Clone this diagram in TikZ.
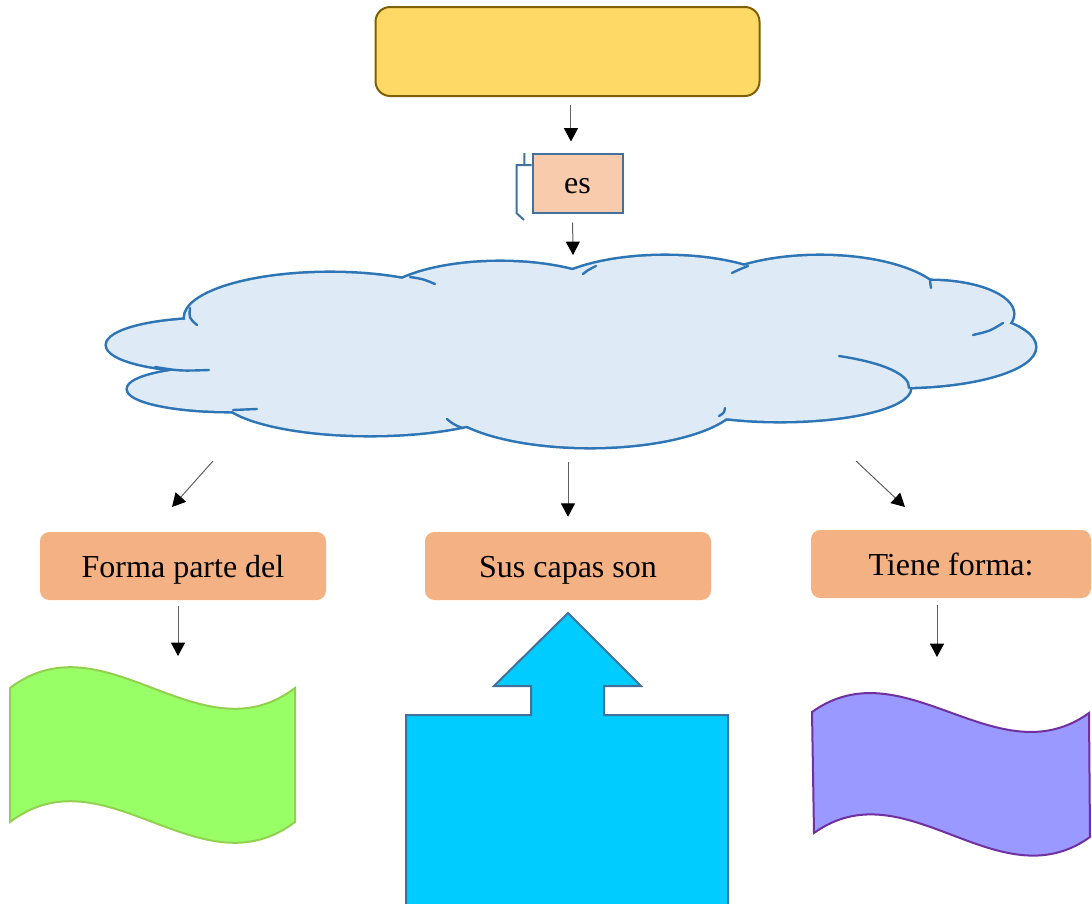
\documentclass[tikz,border=0pt]{standalone}
\usepackage{fontspec}
\setmainfont{Liberation Serif}
\usetikzlibrary{arrows.meta}
\definecolor{topfill}{HTML}{FFD966}
\definecolor{topdraw}{HTML}{7F6000}
\definecolor{esfill}{HTML}{F8CBAD}
\definecolor{bluedraw}{HTML}{41719C}
\definecolor{cloudfill}{HTML}{DEEBF7}
\definecolor{clouddraw}{HTML}{2E75B6}
\definecolor{labfill}{HTML}{F4B183}
\definecolor{greenfill}{HTML}{99FF66}
\definecolor{greendraw}{HTML}{92D050}
\definecolor{purplefill}{HTML}{9999FF}
\definecolor{purpledraw}{HTML}{7030A0}
\definecolor{cyanfill}{HTML}{00CCFF}
\begin{document}
\begin{tikzpicture}[x=0.75pt,y=-0.75pt,
  conn/.style={draw=gray!75!black, line width=0.75pt, -{Triangle[length=10pt,width=10.5pt,color=black]}},
  labelbox/.style={fill=labfill, rounded corners=7pt, minimum width=214.5pt, minimum height=51pt, inner sep=0pt,
    text height=17.5pt, text depth=1pt, font=\fontsize{24}{28}\selectfont},
  cloudline/.style={clouddraw, line width=1.8pt, line cap=round},
]
\useasboundingbox (0,0) rectangle (1092,903);

% top box
\node[draw=topdraw, fill=topfill, line width=1.5pt, rounded corners=11pt,
      minimum width=288pt, minimum height=66.75pt] (top) at (567.5,51.5) {};

% es box
\node[draw=bluedraw, fill=esfill, line width=1.5pt, minimum width=67.5pt,
      minimum height=44.25pt, inner sep=0pt, text height=16pt, text depth=1pt,
      font=\fontsize{24}{28}\selectfont] (es) at (577.5,183) {es};
\draw[bluedraw, line width=1.5pt] (524.3,153) -- (524.3,165) (531.7,165) -- (516.7,165) -- (516.7,213.3) -- (524,220);

\draw[conn, shorten <=6pt, shorten >=8.25pt] ([xshift=2.6pt]top.south) -- ([xshift=-4.9pt]es.north);

% cloud
\coordinate (cltop) at (573,255);
\foreach \cx/\cy/\rx/\ry in {330/318/145/45, 210/345/103/26, 230/389/102/22, 370/395/150/40,
  590/397/150/50, 780/388/130/33, 900/347/135/40, 930/314/83/33, 820/304/125/48,
  665/300/125/44, 500/307/125/45}
  \draw[clouddraw, line width=3.8pt] (\cx,\cy) ellipse [x radius=\rx, y radius=\ry];
\foreach \cx/\cy/\rx/\ry in {330/318/145/45, 210/345/103/26, 230/389/102/22, 370/395/150/40,
  590/397/150/50, 780/388/130/33, 900/347/135/40, 930/314/83/33, 820/304/125/48,
  665/300/125/44, 500/307/125/45, 570/350/360/70}
  \fill[cloudfill] (\cx,\cy) ellipse [x radius=\rx, y radius=\ry];
\draw[cloudline] (190,308) .. controls (189,318) .. (197,325);
\draw[cloudline] (410,277) .. controls (423,279) .. (435,284);
\draw[cloudline] (155,367) .. controls (180,371) .. (209,370);
\draw[cloudline] (233,410) -- (257,409);
\draw[cloudline] (447,419) .. controls (453,424) .. (462,428);
\draw[cloudline] (725,408) .. controls (724,413) .. (719,416);
\draw[cloudline] (839,356) .. controls (885,363) and (910,375) .. (909,388);
\draw[cloudline] (973,335) .. controls (990,331) .. (1003,323);
\draw[cloudline] (930,281) -- (931,288);
\draw[cloudline] (732,273) .. controls (738,270) .. (748,266);
\draw[cloudline] (583,274) .. controls (588,270) .. (596,266);

\draw[conn, shorten <=6.75pt] ([xshift=-3.75pt]es.south) -- (cltop);

% labels
\node[labelbox] (lab1) at (183,566) {Forma parte del};
\node[labelbox] (lab2) at (568,566) {Sus capas son};
\node[labelbox, minimum width=210pt] (lab3) at (951,564) {Tiene forma:};

\coordinate (cl1) at (213,461);
\coordinate (t1) at (172,507);
\coordinate (cl2) at (568,462);
\coordinate (cl3) at (856,461);
\coordinate (t3) at (905,507);
\draw[conn] (cl1) -- (t1);
\draw[conn, shorten >=11.25pt] (cl2) -- (lab2.north);
\draw[conn] (cl3) -- (t3);

% waves
\coordinate (w1) at (178,656);
\coordinate (w3) at (937,657);
\draw[conn, shorten <=4.5pt] ([xshift=-3.75pt]lab1.south) -- (w1);
\draw[conn, shorten <=5.25pt] ([xshift=-10.5pt]lab3.south) -- (w3);

\filldraw[fill=greenfill, draw=greendraw, line width=1.5pt]
  (10,688) .. controls (105,616) and (200,760) .. (295,688) -- (295,822)
  .. controls (200,894) and (105,750) .. (10,822) -- cycle;

\filldraw[fill=purplefill, draw=purpledraw, line width=1.5pt]
  (812,712) .. controls (904,646) and (997,779) .. (1089,713) -- (1090,837)
  .. controls (998,903) and (906,767) .. (814,833) -- cycle;

% up arrow callout
\filldraw[fill=cyanfill, draw=bluedraw, line width=1.5pt]
  (406,904) -- (406,715) -- (531,715) -- (531,686) -- (494,686) -- (568,613)
  -- (641,686) -- (604,686) -- (604,715) -- (728,715) -- (728,904);
\end{tikzpicture}
\end{document}
